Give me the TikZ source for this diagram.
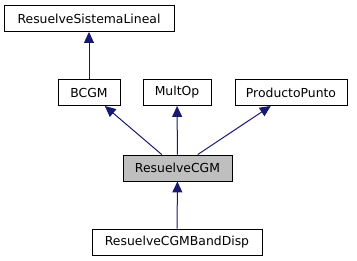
\documentclass[tikz,border=0pt]{standalone}
\usepackage{fontspec}
\setmainfont{DejaVu Sans}
\usepackage{tikz}
\usetikzlibrary{arrows.meta,positioning}
\definecolor{edgeblue}{RGB}{25,25,112}
\definecolor{nodegray}{RGB}{191,191,191}

\begin{document}
\begin{tikzpicture}[x=1pt,y=-1pt,
    cls/.style={draw, line width=0.9pt, fill=white, font=\fontsize{12.4}{14}\selectfont,
                minimum height=26pt, inner xsep=0pt},
    inherit/.style={draw=edgeblue, line width=1pt, -{Triangle[length=11pt,width=10pt,fill=edgeblue]}}]
    \useasboundingbox (0,0) rectangle (357,261);
    % class boxes
    \node[cls, minimum width=170pt] (sistema) at (89,18.5) {ResuelveSistemaLineal};
    \node[cls, minimum width=62pt] (bcgm) at (89,92.5) {BCGM};
    \node[cls, minimum width=68pt] (multop) at (177,92.5) {MultOp};
    \node[cls, minimum width=112pt] (punto) at (291,92.5) {ProductoPunto};
    \node[cls, fill=nodegray, minimum width=109pt] (cgm) at (177.5,168) {ResuelveCGM};
    \node[cls, minimum width=170pt] (banddisp) at (177,242) {ResuelveCGMBandDisp};
    % inheritance
    \draw[inherit] (bcgm) -- (sistema);
    \draw[inherit] (cgm) -- (bcgm);
    \draw[inherit] (cgm) -- (multop);
    \draw[inherit] (cgm) -- (punto);
    \draw[inherit] (banddisp) -- (cgm);
\end{tikzpicture}
\end{document}
